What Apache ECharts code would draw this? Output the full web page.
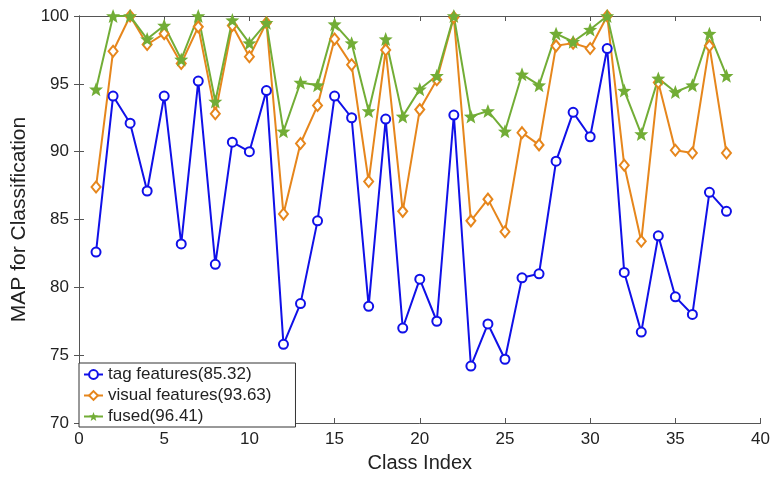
<!DOCTYPE html>
<html><head><meta charset="utf-8">
<script src="https://cdn.jsdelivr.net/npm/echarts@6/dist/echarts.min.js"></script>
<style>html,body{margin:0;padding:0;background:#fff}#c{width:773px;height:478px}</style>
</head><body><div id="c"></div>
<script>
const classIdx = [1,2,3,4,5,6,7,8,9,10,11,12,13,14,15,16,17,18,19,20,21,22,23,24,25,26,27,28,29,30,31,32,33,34,35,36,37,38];
const tagFeatures = [82.6,94.1,92.1,87.1,94.1,83.2,95.2,81.7,90.7,90.0,94.5,75.8,78.8,84.9,94.1,92.5,78.6,92.4,77.0,80.6,77.5,92.7,74.2,77.3,74.7,80.7,81.0,89.3,92.9,91.1,97.6,81.1,76.7,83.8,79.3,78.0,87.0,85.6];
const visualFeatures = [87.4,97.4,100.0,97.9,98.7,96.5,99.2,92.8,99.3,97.0,99.5,85.4,90.6,93.4,98.3,96.4,87.8,97.5,85.6,93.1,95.3,99.9,84.9,86.5,84.1,91.4,90.5,97.8,98.0,97.6,100.0,89.0,83.4,95.1,90.1,89.9,97.8,89.9];
const fused = [94.6,100.0,100.0,98.3,99.3,96.8,100.0,93.7,99.7,98.0,99.5,91.5,95.1,94.9,99.4,98.0,93.0,98.3,92.6,94.6,95.6,100.0,92.6,93.0,91.5,95.7,94.9,98.7,98.1,99.0,100.0,94.5,91.3,95.4,94.4,94.9,98.7,95.6];
const seriesNames = ['tag features(85.32)','visual features(93.63)','fused(96.41)'];
const xTicks = [0,5,10,15,20,25,30,35,40];
const yTicks = [70,75,80,85,90,95,100];

const pair = (arr) => classIdx.map((x, i) => [x, arr[i]]);
const starPath = 'path://M0,-10L2.6,-3.3L9.5,-3.1L4.1,1.3L6,8.1L0,4.2L-6,8.1L-4.1,1.3L-9.5,-3.1L-2.6,-3.3Z';
const axisColor = '#555';
const font = 'Liberation Sans, Arial, sans-serif';

const chart = echarts.init(document.getElementById('c'), null, {renderer: 'canvas'});
chart.setOption({
  animation: false,
  backgroundColor: '#fff',
  grid: {left: 79, right: 8, top: 16, bottom: 51, containLabel: false},
  xAxis: [{
    type: 'value', min: xTicks[0], max: xTicks[xTicks.length-1], interval: 5, position: 'bottom',
    name: 'Class Index', nameLocation: 'middle', nameGap: 30,
    nameTextStyle: {fontFamily: font, fontSize: 20, color: '#222'},
    axisLine: {show: true, lineStyle: {color: axisColor, width: 1}},
    axisTick: {show: true, inside: true, length: 5, lineStyle: {color: axisColor}},
    axisLabel: {fontFamily: font, fontSize: 17, color: '#222', margin: 8},
    splitLine: {show: false}
  }, {
    type: 'value', min: xTicks[0], max: xTicks[xTicks.length-1], interval: 5, position: 'top',
    axisLine: {show: true, lineStyle: {color: axisColor, width: 1}},
    axisTick: {show: true, inside: true, length: 5, lineStyle: {color: axisColor}},
    axisLabel: {show: false}, splitLine: {show: false}
  }],
  yAxis: [{
    type: 'value', min: yTicks[0], max: yTicks[yTicks.length-1], interval: 5, position: 'left',
    name: 'MAP for Classification', nameLocation: 'middle', nameGap: 46,
    nameTextStyle: {fontFamily: font, fontSize: 21, color: '#222'},
    axisLine: {show: true, lineStyle: {color: axisColor, width: 1}},
    axisTick: {show: true, inside: true, length: 5, lineStyle: {color: axisColor}},
    axisLabel: {fontFamily: font, fontSize: 17, color: '#222', margin: 10},
    splitLine: {show: false}
  }, {
    type: 'value', min: yTicks[0], max: yTicks[yTicks.length-1], interval: 5, position: 'right',
    axisLine: {show: true, lineStyle: {color: axisColor, width: 1}},
    axisTick: {show: true, inside: true, length: 5, lineStyle: {color: axisColor}},
    axisLabel: {show: false}, splitLine: {show: false}
  }],
  legend: {
    orient: 'vertical', left: 79, bottom: 51,
    backgroundColor: '#fff', borderColor: '#333', borderWidth: 1,
    padding: [3, 24, 2, 4], itemGap: 4, itemWidth: 19, itemHeight: 11,
    textStyle: {fontFamily: font, fontSize: 17, color: '#222'},
    data: seriesNames
  },
  series: [{
    name: seriesNames[0], type: 'line', data: pair(tagFeatures),
    lineStyle: {color: '#1010e8', width: 2}, itemStyle: {color: '#1010e8', borderWidth: 2},
    symbol: 'emptyCircle', symbolSize: 9
  }, {
    name: seriesNames[1], type: 'line', data: pair(visualFeatures),
    lineStyle: {color: '#e6861c', width: 2}, itemStyle: {color: '#e6861c', borderWidth: 2},
    symbol: 'emptyDiamond', symbolSize: [9, 11]
  }, {
    name: seriesNames[2], type: 'line', data: pair(fused),
    lineStyle: {color: '#72ad36', width: 2}, itemStyle: {color: '#72ad36'},
    symbol: starPath, symbolSize: 14
  }]
});
</script></body></html>
